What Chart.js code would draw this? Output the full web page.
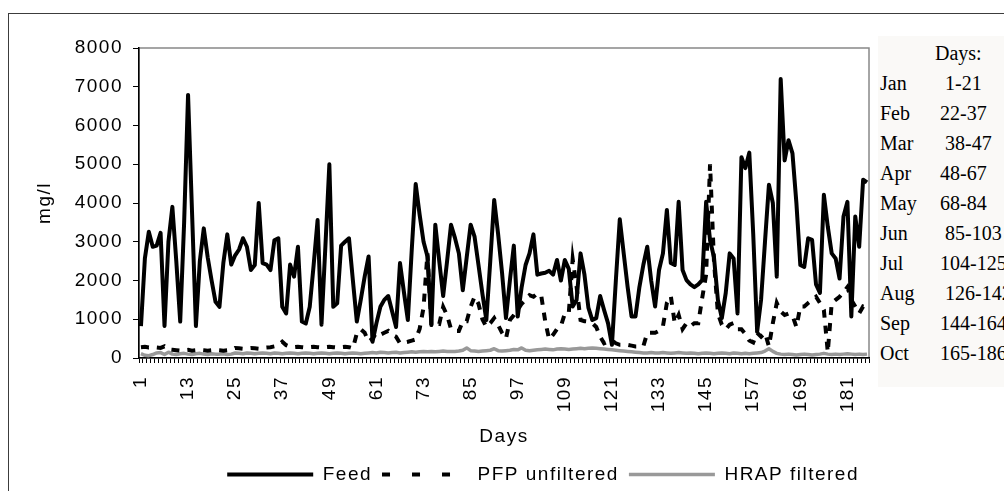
<!DOCTYPE html>
<html>
<head>
<meta charset="utf-8">
<script src="https://cdn.jsdelivr.net/npm/chart.js@4.4.1/dist/chart.umd.min.js"></script>
<style>
  html, body { margin: 0; padding: 0; background: #fff; overflow: hidden; }
  #wrap { position: relative; width: 1004px; height: 491px; overflow: hidden; }
  #frame { position: absolute; left: 8px; top: 13px; width: 1100px; height: 600px; border: 1.5px solid #3c3c3c; }
  #chart { position: absolute; left: 0; top: 0; }
  #months {
    position: absolute; left: 878px; top: 36px; width: 140px; height: 351px;
    background: #faf9f7; color: #000; white-space: pre;
    font: 20px "Liberation Serif", "Times New Roman", serif;
    line-height: 30px; padding-top: 2px; box-sizing: border-box;
  }
  #months .m { display: inline-block; width: 60px; padding-left: 2px; }
  #months .head { padding-left: 57px; }
</style>
</head>
<body>
<div id="wrap">
  <div id="frame"></div>
  <canvas id="chart" width="1004" height="491"></canvas>
  <div id="months"></div>
</div>
<script>
// day numbers 1..186
const days = [];
for (let d = 1; d <= 186; d++) days.push(String(d));

const feed = [
  825, 2570, 3260, 2870, 2900, 3230, 825, 3000, 3900, 2500,
  940, 3500, 6790, 3800, 825, 2500, 3345, 2600, 2000, 1450,
  1320, 2460, 3190, 2410, 2650, 2800, 3090, 2870, 2270, 2400,
  4000, 2450, 2410, 2270, 3040, 3090, 1320, 1150, 2410, 2100,
  2870, 940, 890, 1320, 2400, 3560, 860, 2900, 5000, 1320,
  1410, 2900, 3000, 3090, 2000, 940, 1500, 2100, 2620, 420,
  900, 1320, 1500, 1600, 1200, 800, 2450, 1700, 980, 2800,
  4490, 3700, 3000, 2620, 850, 3440, 2500, 1600, 2500, 3440,
  3100, 2700, 1750, 2600, 3440, 3130, 2400, 1660, 980, 2500,
  4080, 3200, 2200, 1030, 2000, 2900, 1070, 1830, 2400, 2700,
  3190, 2150, 2180, 2200, 2250, 2150, 2530, 2000, 2530, 2300,
  1330, 1500, 2700, 2150, 1300, 980, 1030, 1600, 1240, 900,
  340, 2000, 3580, 2700, 1830, 1070, 1070, 1830, 2400, 2870,
  2000, 1330, 2270, 2700, 3820, 2450, 2400, 4030, 2270, 2010,
  1900, 1830, 1900, 2010, 4030, 3040, 2600, 1500, 1030, 1680,
  2700, 2570, 1150, 5180, 4900, 5300, 3200, 680, 1500, 3000,
  4470, 4000, 2100, 7200, 5100, 5620, 5280, 4000, 2400, 2350,
  3090, 3050, 1900, 1680, 4210, 3390, 2700, 2570, 2050, 3650,
  4030, 1070, 3650, 2870, 4600, 4530
];

const pfpUnfiltered = [
  280, 290, 270, 280, 270, 260, 300, 220, 210, 200,
  190, 200, 210, 190, 200, 210, 200, 190, 200, 210,
  200, 190, 200, 210, 260, 250, 240, 250, 260, 250,
  240, 260, 270, 280, 300, 330, 420, 330, 290, 280,
  290, 280, 270, 280, 290, 280, 270, 280, 290, 280,
  270, 280, 290, 280, 250, 640, 740, 650, 420, 500,
  650, 600, 650, 700, 600, 550, 380, 400, 420, 450,
  480, 750, 1300, 2700, 850, 900, 880, 1320, 1100, 750,
  700, 700, 950, 950, 1320, 1580, 1400, 1000, 800, 900,
  1030, 850, 650, 500, 980, 1100, 1240, 1400, 1500, 1620,
  1580, 1670, 1600, 950, 480, 600, 750, 820, 1150, 1150,
  2550, 1830, 980, 950, 940, 900, 800, 550, 380, 420,
  450, 380, 340, 340, 340, 320, 300, 300, 300, 650,
  650, 650, 700, 820, 1420, 1600, 900, 1110, 750, 900,
  820, 900, 900, 1550, 2150, 5000, 2500, 1150, 860, 740,
  860, 900, 740, 740, 620, 450, 400, 650, 550, 650,
  300, 900, 1420, 1200, 1110, 1150, 1100, 800, 1330, 1330,
  1420, 1500, 1580, 1420, 1240, 150, 1420, 1500, 1580, 1700,
  1830, 1500, 1330, 1150, 1330, 1300
];

const hrapFiltered = [
  110, 70, 60, 90, 130, 140, 90, 150, 100, 90,
  110, 120, 100, 90, 110, 120, 100, 90, 110, 100,
  100, 110, 90, 100, 130, 120, 110, 130, 120, 110,
  120, 130, 120, 110, 130, 120, 110, 120, 130, 120,
  110, 120, 130, 120, 110, 120, 130, 120, 110, 120,
  130, 120, 110, 120, 130, 120, 110, 120, 130, 140,
  130, 150, 140, 130, 140, 150, 130, 140, 150, 160,
  150, 160, 170, 160, 170, 160, 170, 180, 170, 170,
  170, 180, 200, 260, 190, 180, 170, 180, 190, 200,
  240, 190, 180, 190, 200, 220, 210, 260, 200, 190,
  200, 210, 220, 230, 220, 210, 230, 240, 230, 220,
  230, 240, 250, 240, 250, 260, 250, 240, 230, 220,
  210, 200, 190, 180, 170, 160, 150, 140, 130, 130,
  140, 130, 130, 140, 130, 120, 130, 140, 130, 120,
  130, 120, 110, 120, 130, 120, 110, 120, 130, 120,
  110, 130, 120, 110, 120, 110, 120, 130, 140, 180,
  240, 170, 120, 100, 90, 100, 90, 80, 90, 100,
  90, 80, 90, 100, 120, 100, 90, 100, 90, 100,
  110, 100, 90, 100, 90, 100
];

const yTicks = [0, 1000, 2000, 3000, 4000, 5000, 6000, 7000, 8000];

// side table: month and its day range
const monthNames = ['Jan', 'Feb', 'Mar', 'Apr', 'May', 'Jun', 'Jul', 'Aug', 'Sep', 'Oct'];
const monthRanges = [' 1-21', '22-37', ' 38-47', '48-67', '68-84', ' 85-103', '104-125', ' 126-142', '144-164', '165-186'];

const months = document.getElementById('months');
let rows = '<span class="head">Days:</span>\n';
monthNames.forEach((m, i) => {
  rows += '<span class="m">' + m + '</span>' + monthRanges[i] + '\n';
});
months.innerHTML = rows;

const font = { family: '"Liberation Sans", Arial, sans-serif', size: 19 };
// legend samples: same dash as excel shows in its key
const legendDash = [[], [8, 22], []];

// excel renders the labels a bit wider than the canvas does
const spacing = {
  id: 'spacing',
  beforeLayout(chart) { chart.ctx.letterSpacing = '1.5px'; },
  beforeDraw(chart) { chart.ctx.letterSpacing = '1.5px'; }
};

// grey box round the plot area, axes are drawn over it
const plotFrame = {
  id: 'plotFrame',
  beforeDraw(chart) {
    const { ctx, chartArea: a } = chart;
    ctx.save();
    ctx.strokeStyle = '#888';
    ctx.lineWidth = 1.5;
    ctx.strokeRect(a.left, a.top, a.right - a.left, a.bottom - a.top);
    ctx.restore();
  }
};

new Chart(document.getElementById('chart'), {
  type: 'line',
  data: {
    labels: days,
    datasets: [
      {
        label: 'Feed',
        data: feed,
        borderColor: '#000',
        backgroundColor: '#000',
        borderWidth: 4,
        borderJoinStyle: 'round'
      },
      {
        label: 'PFP unfiltered',
        data: pfpUnfiltered,
        borderColor: '#000',
        backgroundColor: '#000',
        borderWidth: 4,
        borderDash: [8, 8]
      },
      {
        label: 'HRAP filtered',
        data: hrapFiltered,
        borderColor: '#999',
        backgroundColor: '#999',
        borderWidth: 3.5,
        borderJoinStyle: 'round'
      }
    ]
  },
  options: {
    responsive: false,
    animation: false,
    devicePixelRatio: 1,
    elements: { point: { radius: 0 }, line: { tension: 0 } },
    layout: { padding: { left: 30, right: 135, top: 48, bottom: -3 } },
    scales: {
      x: {
        offset: true,
        grid: { drawOnChartArea: false, offset: true, tickLength: 5, color: '#000' },
        border: { color: '#000', width: 1.5 },
        ticks: {
          autoSkip: false,
          minRotation: 90,
          maxRotation: 90,
          padding: 13,
          color: '#000',
          font: font,
          callback: (v, i) => (i % 12 === 0 ? days[i] : '')
        },
        title: { display: true, text: 'Days', color: '#000', font: font, padding: { top: 0, bottom: 7 } },
        afterFit(scale) { scale.height = 97; }
      },
      y: {
        min: 0,
        max: 8000,
        afterBuildTicks(scale) { scale.ticks = yTicks.map(v => ({ value: v })); },
        grid: { drawOnChartArea: false, tickLength: 6, color: '#000' },
        border: { color: '#000', width: 1.5 },
        ticks: { padding: 10, color: '#000', font: font, callback: v => String(v) },
        title: { display: true, text: 'mg/l', color: '#000', font: font, padding: { top: 3, bottom: 3 } },
        afterFit(scale) { scale.width = 109; }
      }
    },
    plugins: {
      legend: {
        position: 'bottom',
        align: 'end',
        labels: {
          usePointStyle: true,
          pointStyle: 'line',
          pointStyleWidth: 86,
          padding: 10,
          color: '#000',
          font: font,
          generateLabels: chart => chart.data.datasets.map((ds, i) => ({
            text: ds.label,
            fillStyle: ds.borderColor,
            strokeStyle: ds.borderColor,
            lineWidth: ds.borderWidth,
            lineDash: legendDash[i],
            lineCap: 'butt',
            pointStyle: 'line',
            fontColor: '#000',
            hidden: false,
            datasetIndex: i
          }))
        }
      },
      tooltip: { enabled: false }
    }
  },
  plugins: [spacing, plotFrame]
});
</script>
</body>
</html>
